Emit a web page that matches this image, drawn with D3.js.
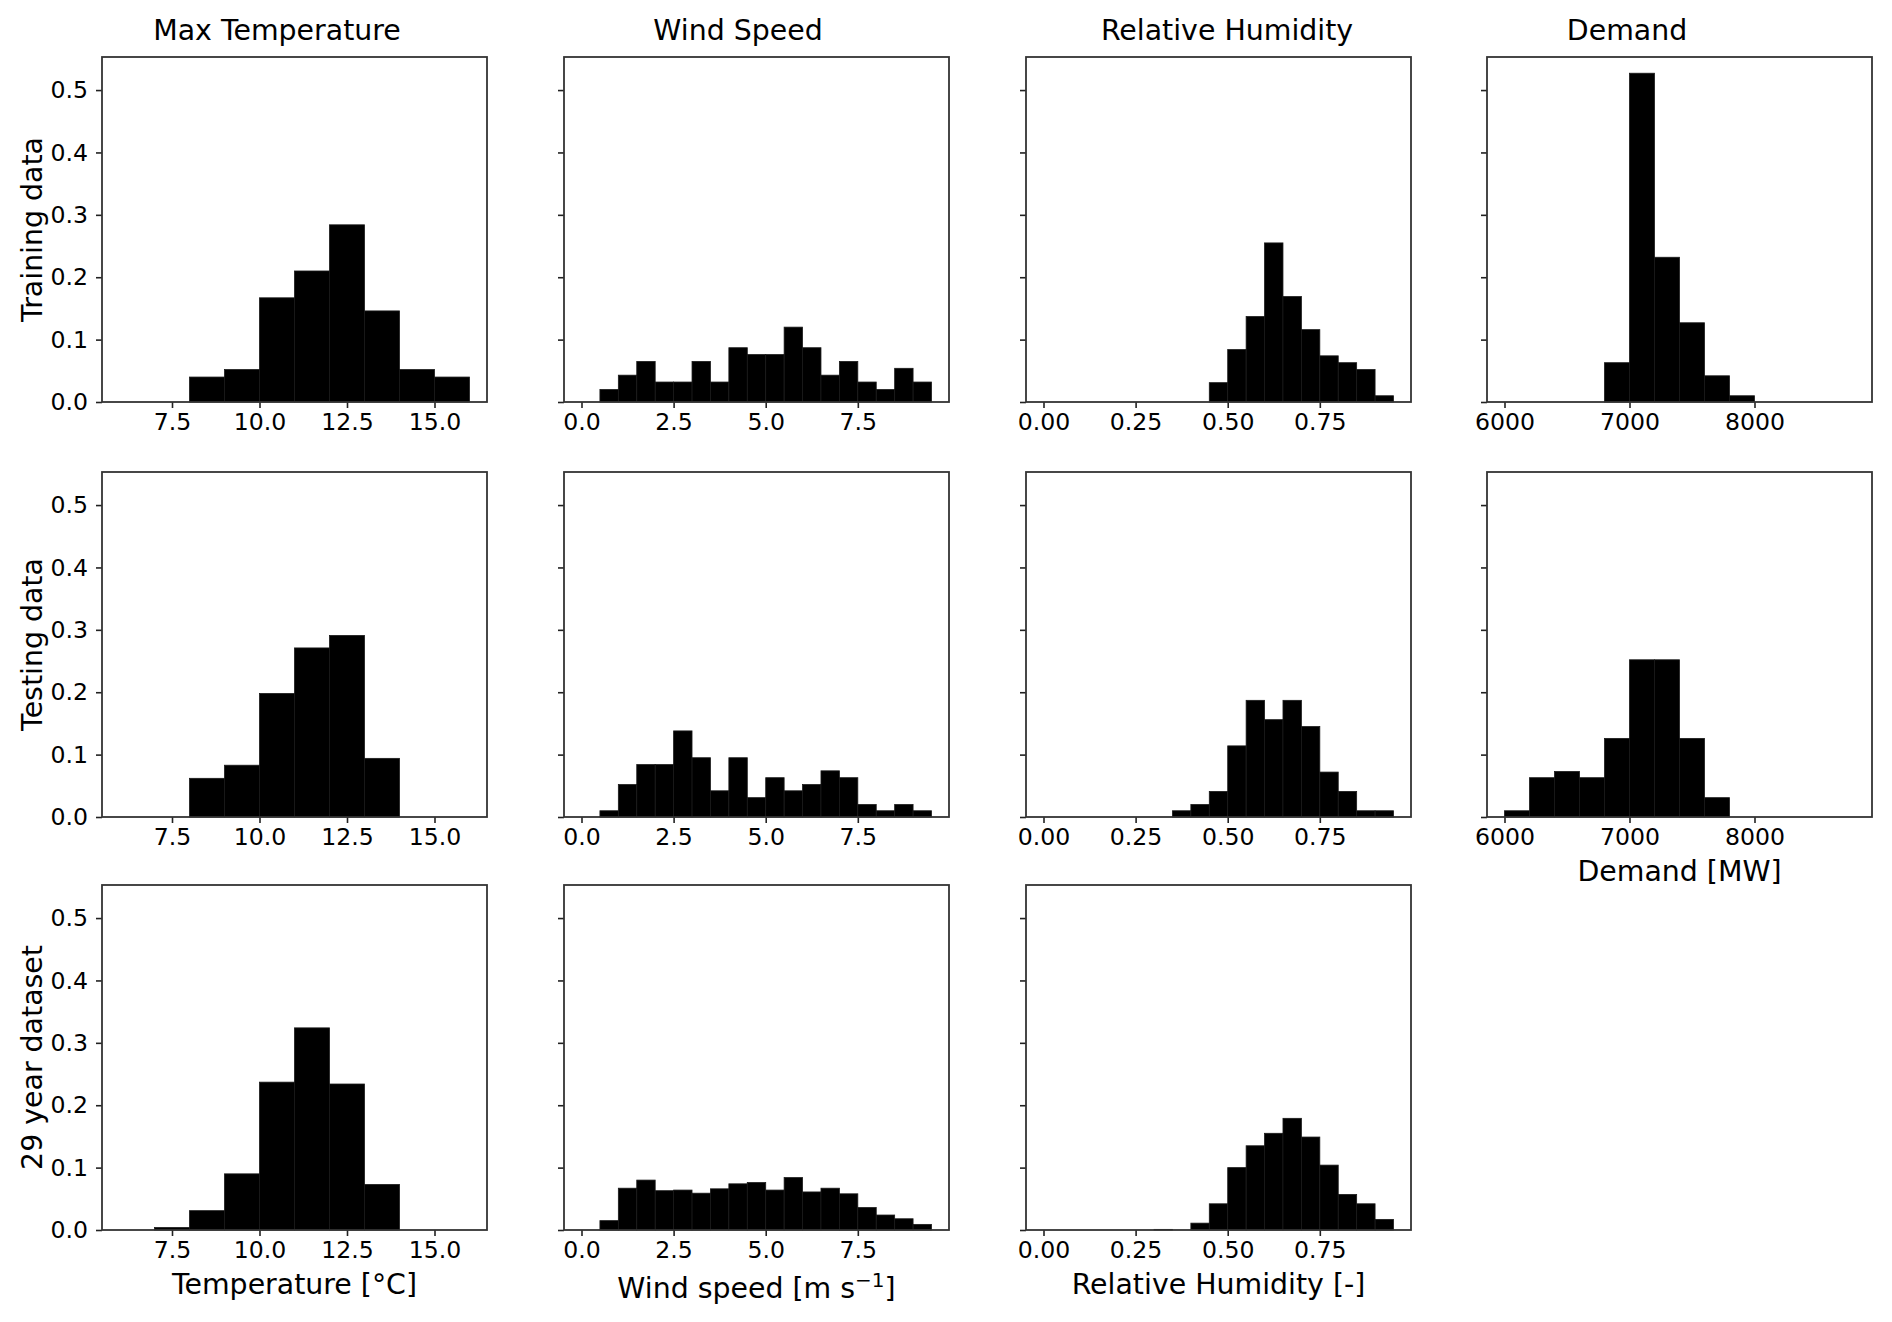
<!DOCTYPE html>
<html>
<head>
<meta charset="utf-8">
<script src="https://cdn.jsdelivr.net/npm/d3@7"></script>
<style>
  body { margin: 0; background: #fff; }
  text { font-family: "DejaVu Sans", sans-serif; fill: #000; }
</style>
</head>
<body>
<svg id="fig"></svg>
<script>
// bin left edges (last entry is the right edge of the final bin)
const tempBins = [6, 7, 8, 9, 10, 11, 12, 13, 14, 15, 16];
const windBins = [0, 0.5, 1, 1.5, 2, 2.5, 3, 3.5, 4, 4.5, 5, 5.5, 6, 6.5, 7, 7.5, 8, 8.5, 9, 9.5];
const rhBins = [0, 0.05, 0.1, 0.15, 0.2, 0.25, 0.3, 0.35, 0.4, 0.45, 0.5, 0.55, 0.6, 0.65, 0.7, 0.75, 0.8, 0.85, 0.9, 0.95];
const demandBins = [6000, 6200, 6400, 6600, 6800, 7000, 7200, 7400, 7600, 7800, 8000, 8200, 8400, 8600, 8800];

// relative frequencies per bin
const tempTrain = [0, 0, 0.040, 0.052, 0.167, 0.210, 0.284, 0.146, 0.052, 0.040];
const tempTest  = [0, 0, 0.062, 0.083, 0.198, 0.271, 0.291, 0.094, 0, 0];
const temp29    = [0, 0.004, 0.031, 0.090, 0.237, 0.324, 0.234, 0.073, 0, 0];

const windTrain = [0, 0.020, 0.043, 0.065, 0.032, 0.032, 0.065, 0.032, 0.087, 0.076, 0.076, 0.120, 0.087, 0.043, 0.065, 0.032, 0.020, 0.054, 0.032];
const windTest  = [0, 0.010, 0.052, 0.084, 0.084, 0.138, 0.095, 0.042, 0.095, 0.031, 0.063, 0.042, 0.052, 0.074, 0.063, 0.020, 0.010, 0.020, 0.010];
const wind29    = [0, 0.015, 0.067, 0.080, 0.063, 0.064, 0.059, 0.066, 0.074, 0.076, 0.064, 0.084, 0.061, 0.067, 0.058, 0.036, 0.024, 0.018, 0.009];

const rhTrain = [0, 0, 0, 0, 0, 0, 0, 0, 0, 0.031, 0.084, 0.137, 0.255, 0.169, 0.116, 0.074, 0.063, 0.052, 0.010];
const rhTest  = [0, 0, 0, 0, 0, 0, 0, 0.010, 0.020, 0.041, 0.114, 0.187, 0.156, 0.187, 0.145, 0.072, 0.041, 0.010, 0.010];
const rh29    = [0, 0, 0, 0, 0, 0, 0.001, 0, 0.011, 0.042, 0.100, 0.135, 0.155, 0.179, 0.149, 0.104, 0.057, 0.042, 0.017];

const demandTrain = [0, 0, 0, 0, 0.063, 0.527, 0.232, 0.127, 0.042, 0.010, 0, 0, 0, 0];
const demandTest  = [0.010, 0.063, 0.073, 0.063, 0.126, 0.252, 0.252, 0.126, 0.031, 0, 0, 0, 0, 0];

const colTitles = ["Max Temperature", "Wind Speed", "Relative Humidity", "Demand"];
const rowTitles = ["Training data", "Testing data", "29 year dataset"];
const yTicks = [0, 0.1, 0.2, 0.3, 0.4, 0.5];

const variables = [
  {bins: tempBins, ticks: [7.5, 10, 12.5, 15], fmt: ".1f", rows: [tempTrain, tempTest, temp29], label: "Temperature [°C]"},
  {bins: windBins, ticks: [0, 2.5, 5, 7.5], fmt: ".1f", rows: [windTrain, windTest, wind29], label: "wind"},
  {bins: rhBins, ticks: [0, 0.25, 0.5, 0.75], fmt: ".2f", rows: [rhTrain, rhTest, rh29], label: "Relative Humidity [-]"},
  {bins: demandBins, ticks: [6000, 7000, 8000], fmt: "d", rows: [demandTrain, demandTest], label: "Demand [MW]"},
];

const W = 1892, H = 1322;
const colX = [102, 564, 1026, 1487];
const rowY = [57, 472, 885];
const pw = 385, ph = 345;
const titleX = [277, 738, 1227, 1627];
const tickFont = 23.6, labelFont = 28.4;

const svg = d3.select("#fig").attr("width", W).attr("height", H);

const y = d3.scaleLinear().domain([0, 0.553]).range([ph, 0]);

variables.forEach((v, c) => {
  const lo = v.bins[0], hi = v.bins[v.bins.length - 1];
  const pad = (hi - lo) * 0.05;
  const x = d3.scaleLinear().domain([lo - pad, hi + pad]).range([0, pw]);

  svg.append("text")
      .attr("x", titleX[c])
      .attr("y", 40)
      .attr("text-anchor", "middle")
      .attr("font-size", labelFont)
      .text(colTitles[c]);

  v.rows.forEach((vals, r) => {
    const g = svg.append("g").attr("transform", `translate(${colX[c]},${rowY[r]})`);
    const bars = vals.map((d, i) => ({x0: v.bins[i], x1: v.bins[i + 1], h: d}));

    g.selectAll("rect")
      .data(bars)
      .join("rect")
        .attr("x", d => x(d.x0))
        .attr("width", d => x(d.x1) - x(d.x0))
        .attr("y", d => y(d.h))
        .attr("height", d => y(0) - y(d.h))
        .attr("fill", "#000")
        .attr("stroke", "#1a1a1a")
        .attr("stroke-width", 0.8);

    // x axis
    const xAxis = d3.axisBottom(x).tickValues(v.ticks).tickFormat(d3.format(v.fmt))
        .tickSize(6).tickPadding(5).tickSizeOuter(0);
    g.append("g")
        .attr("transform", `translate(0,${ph})`)
        .call(xAxis)
        .call(a => a.select(".domain").remove())
        .call(a => a.selectAll(".tick line").attr("stroke", "#222").attr("stroke-width", 1.6))
        .call(a => a.selectAll(".tick text").attr("font-size", tickFont).attr("font-family", "DejaVu Sans").attr("fill", "#111"));

    // y axis (labels only in first column)
    const yAxis = d3.axisLeft(y).tickValues(yTicks).tickFormat(d3.format(".1f"))
        .tickSize(6).tickPadding(8).tickSizeOuter(0);
    g.append("g")
        .call(yAxis)
        .call(a => a.select(".domain").remove())
        .call(a => a.selectAll(".tick line").attr("stroke", "#222").attr("stroke-width", 1.6))
        .call(a => a.selectAll(".tick text")
            .attr("font-size", tickFont).attr("font-family", "DejaVu Sans").attr("fill", "#111")
            .style("display", c === 0 ? null : "none"));

    // frame
    g.append("rect")
        .attr("width", pw).attr("height", ph)
        .attr("fill", "none")
        .attr("stroke", "#333")
        .attr("stroke-width", 1.8);

    // x label on the last panel of each column
    if (r === v.rows.length - 1) {
      const lab = g.append("text")
          .attr("x", pw / 2)
          .attr("y", ph + (v.label === "wind" ? 68 : 64))
          .attr("text-anchor", "middle")
          .attr("font-size", labelFont);
      if (v.label === "wind") {
        lab.append("tspan").text("Wind speed [m s");
        lab.append("tspan").attr("dy", -11).attr("font-size", 20).text("−1");
        lab.append("tspan").attr("dy", 11).text("]");
      } else {
        lab.text(v.label);
      }
    }
  });
});

rowTitles.forEach((t, r) => {
  svg.append("text")
      .attr("transform", `translate(42,${rowY[r] + ph / 2}) rotate(-90)`)
      .attr("text-anchor", "middle")
      .attr("font-size", labelFont)
      .text(t);
});
</script>
</body>
</html>
